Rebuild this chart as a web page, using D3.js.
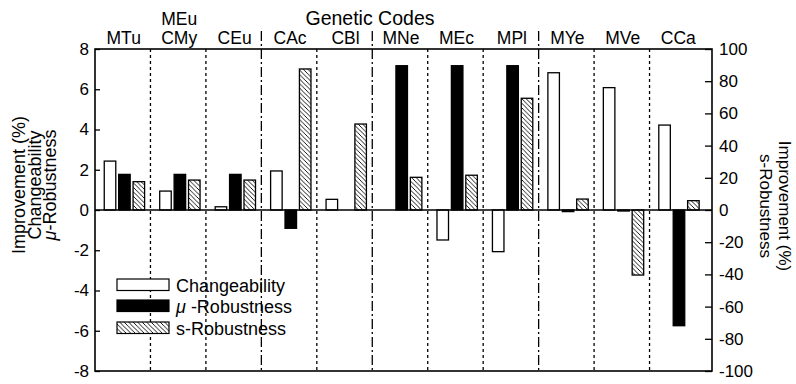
<!DOCTYPE html>
<html><head><meta charset="utf-8">
<script src="https://cdn.jsdelivr.net/npm/d3@7"></script>
<style>
body{margin:0;background:#fff;}
svg text{font-family:"Liberation Sans",Arial,Helvetica,sans-serif;fill:#000;}
</style></head>
<body><svg id="c" width="796" height="384"></svg>
<script>
// ---- data ----
const codes = ["MTu","MEu/CMy","CEu","CAc","CBl","MNe","MEc","MPl","MYe","MVe","CCa"];
const codeLabels = [["MTu"],["MEu","CMy"],["CEu"],["CAc"],["CBl"],["MNe"],["MEc"],["MPl"],["MYe"],["MVe"],["CCa"]];
const family = ["A","A","A","B","B","C","C","C","D","D","D"];
const changeability = [2.43, 0.94, 0.16, 1.94, 0.53, 0, -1.49, -2.07, 6.82, 6.08, 4.22];
const muRobustness  = [1.77, 1.77, 1.77, -0.91, 0, 7.17, 7.17, 7.17, -0.08, -0.05, -5.75];
const sRobustness   = [17.6, 18.6, 18.6, 87.6, 53.4, 20.3, 21.6, 69.4, 6.8, -40.4, 5.8]; // right axis (%)
const leftTicks  = [-8,-6,-4,-2,0,2,4,6,8];
const rightTicks = [-100,-80,-60,-40,-20,0,20,40,60,80,100];
const series = ["Changeability","μ-Robustness","s-Robustness"];

const svg = d3.select("#c");
const L = 95, R = 712, T = 49, B = 371;
const yL = d3.scaleLinear().domain([-8,8]).range([B,T]);
const yR = d3.scaleLinear().domain([-100,100]).range([B,T]);
const xG = d3.scaleBand().domain(codes).range([L,705]);
const xS = d3.scaleBand().domain(series).range([9.25,49.6]).paddingInner(0.2);

// hatch pattern
const defs = svg.append("defs");
const pat = defs.append("pattern").attr("id","hatch").attr("patternUnits","userSpaceOnUse")
  .attr("width",4.5).attr("height",4.5);
pat.append("rect").attr("width",4.5).attr("height",4.5).attr("fill","#fff");
pat.append("path").attr("d","M0,0L4.5,4.5M-1,3.5L1,5.5M3.5,-1L5.5,1").attr("stroke","#000").attr("stroke-width",0.9);

// separators
const seps = codes.slice(1).map((c,i)=>({x:xG(c), dd: family[i]!==family[i+1]}));
svg.append("g").selectAll("line").data(seps).join("line")
  .attr("x1",d=>d.x).attr("x2",d=>d.x)
  .attr("y1",d=>d.dd?31:T).attr("y2",B)
  .attr("stroke","#000").attr("stroke-width",1.3)
  .attr("stroke-dasharray",d=>d.dd?"10,3,2,3":"3,3");

// bars
const styles = {"Changeability":"#fff","μ-Robustness":"#000","s-Robustness":"url(#hatch)"};
const rows = [];
codes.forEach((c,i)=>{
  rows.push({c,s:"Changeability",y0:yL(0),y1:yL(changeability[i])});
  rows.push({c,s:"μ-Robustness",y0:yL(0),y1:yL(muRobustness[i])});
  rows.push({c,s:"s-Robustness",y0:yR(0),y1:yR(sRobustness[i])});
});
svg.append("g").selectAll("rect").data(rows.filter(d=>Math.abs(d.y1-d.y0)>0.01)).join("rect")
  .attr("x",d=>xG(d.c)+xS(d.s)).attr("width",xS.bandwidth())
  .attr("y",d=>Math.min(d.y0,d.y1)).attr("height",d=>Math.abs(d.y1-d.y0))
  .attr("fill",d=>styles[d.s]).attr("stroke","#000").attr("stroke-width",1.3);

// zero line
svg.append("line").attr("x1",L).attr("x2",R).attr("y1",yL(0)).attr("y2",yL(0))
  .attr("stroke","#000").attr("stroke-width",1.7);

// frame
svg.append("rect").attr("x",L).attr("y",T).attr("width",R-L).attr("height",B-T)
  .attr("fill","none").attr("stroke","#000").attr("stroke-width",1.6);

// axes
const fmt = d=>String(d);
const gl = svg.append("g").attr("transform",`translate(${L},0)`)
  .call(d3.axisLeft(yL).tickValues(leftTicks).tickFormat(fmt).tickSizeInner(-5).tickSizeOuter(0).tickPadding(6));
const gr = svg.append("g").attr("transform",`translate(${R},0)`)
  .call(d3.axisRight(yR).tickValues(rightTicks).tickFormat(fmt).tickSizeInner(-7).tickSizeOuter(0).tickPadding(7));
[gl,gr].forEach(g=>{
  g.select(".domain").remove();
  g.selectAll(".tick line").attr("stroke","#000").attr("stroke-width",1.3);
  g.selectAll(".tick text").attr("font-size",17).attr("font-family","Liberation Sans, Arial, sans-serif");
});

// top labels
svg.append("text").attr("x",370).attr("y",25).attr("text-anchor","middle").attr("font-size",19.5).text("Genetic Codes");
codes.forEach((c,i)=>{
  const lines = codeLabels[i];
  const cx = xG(c)+xG.bandwidth()/2+1;
  lines.forEach((t,j)=>{
    svg.append("text").attr("x",cx).attr("y",44-(lines.length-1-j)*19)
      .attr("text-anchor","middle").attr("font-size",17.5).text(t);
  });
});

// left title
const lt = svg.append("g").attr("transform","translate(0,185) rotate(-90)");
lt.append("text").attr("x",0).attr("y",25).attr("text-anchor","middle").attr("font-size",18).text("Improvement (%)");
lt.append("text").attr("x",0).attr("y",41).attr("text-anchor","middle").attr("font-size",18).text("Changeability");
const l3 = lt.append("text").attr("x",0).attr("y",56).attr("text-anchor","middle").attr("font-size",18);
l3.append("tspan").attr("font-style","italic").text("μ");
l3.append("tspan").text("-Robustness");

// right title
const rt = svg.append("g").attr("transform","translate(0,206) rotate(90)");
rt.append("text").attr("x",0).attr("y",-779).attr("text-anchor","middle").attr("font-size",17).text("Improvement (%)");
rt.append("text").attr("x",0).attr("y",-760).attr("text-anchor","middle").attr("font-size",17).text("s-Robustness");

// legend
const lg = svg.append("g");
const legRows = [{s:"Changeability",y:279},{s:"μ-Robustness",y:300},{s:"s-Robustness",y:322}];
legRows.forEach(r=>{
  lg.append("rect").attr("x",117).attr("y",r.y).attr("width",52).attr("height",11.5)
    .attr("fill",styles[r.s]).attr("stroke","#000").attr("stroke-width",1.2);
  const t = lg.append("text").attr("x",176).attr("y",r.y+12.5).attr("font-size",18);
  if(r.s==="μ-Robustness"){
    t.append("tspan").attr("font-style","italic").text("μ");
    t.append("tspan").text(" -Robustness");
  } else t.text(r.s);
});
</script></body></html>
